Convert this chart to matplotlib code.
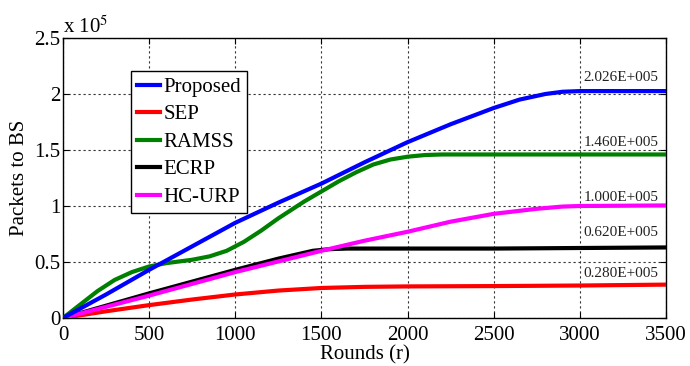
import matplotlib
matplotlib.use('Agg')
import matplotlib.pyplot as plt
import numpy as np

# DATA (y in units of 1e5 packets)
# ----------------------------------------------------------------------------

rounds_prop = [0, 250, 500, 750, 1000, 1250, 1500, 1750, 2000, 2250, 2500, 2650, 2800, 2900, 3000, 3500]
proposed    = [0, 0.21, 0.43, 0.64, 0.85, 1.03, 1.20, 1.39, 1.57, 1.73, 1.875, 1.95, 2.0, 2.02, 2.026, 2.026]

rounds_ramss = [0, 100, 200, 300, 400, 500, 600, 750, 850, 950, 1050, 1150, 1250, 1400, 1500, 1600,
                1700, 1800, 1900, 2000, 2100, 2200, 3500]
ramss        = [0, 0.12, 0.24, 0.34, 0.41, 0.46, 0.49, 0.52, 0.55, 0.60, 0.68, 0.78, 0.89, 1.04, 1.13,
                1.22, 1.30, 1.37, 1.415, 1.44, 1.455, 1.46, 1.46]

rounds_ecrp = [0, 500, 1000, 1250, 1450, 1550, 1650, 2500, 3000, 3500]
ecrp        = [0, 0.22, 0.43, 0.53, 0.60, 0.615, 0.62, 0.62, 0.625, 0.63]

rounds_hc = [0, 500, 1000, 1500, 1750, 2000, 2250, 2500, 2750, 2900, 3000, 3500]
hc_urp    = [0, 0.20, 0.41, 0.60, 0.69, 0.77, 0.86, 0.93, 0.975, 0.995, 1.0, 1.005]

rounds_sep = [0, 250, 500, 750, 1000, 1250, 1500, 1750, 2000, 2500, 3000, 3500]
sep        = [0, 0.06, 0.115, 0.165, 0.21, 0.245, 0.268, 0.278, 0.282, 0.285, 0.29, 0.298]

final_labels = ['2.026E+005', '1.460E+005', '1.000E+005', '0.620E+005', '0.280E+005']
final_label_y = [2.15, 1.57, 1.08, 0.76, 0.40]

# STYLE
# ----------------------------------------------------------------------------

plt.rcParams['font.family'] = ['Liberation Serif', 'DejaVu Serif']
plt.rcParams['mathtext.fontset'] = 'stix'

fig = plt.figure(figsize=(6.9, 3.66), dpi=100, facecolor='white')
ax = fig.add_axes([63 / 690, 1 - 318 / 366, 603 / 690, 280 / 366])

lw = 3
ax.plot(np.array(rounds_prop), proposed, color='#0000FF', lw=lw, label='Proposed', zorder=5)
ax.plot(np.array(rounds_sep), sep, color='#FF0000', lw=lw, label='SEP', zorder=3)
ax.plot(np.array(rounds_ramss), ramss, color='#008000', lw=lw, label='RAMSS', zorder=4)
ax.plot(np.array(rounds_ecrp), ecrp, color='black', lw=lw, label='ECRP', zorder=3)
ax.plot(np.array(rounds_hc), hc_urp, color='#FF00FF', lw=lw, label='HC-URP', zorder=4)

for txt, yv in zip(final_labels, final_label_y):
    ax.text(3240, yv, txt, ha='center', va='center', fontsize=11, color='#222222')

ax.set_xlim(0, 3500)
ax.set_ylim(0, 2.5)
ax.set_xticks(np.arange(0, 3501, 500))
ax.set_yticks([0, 0.5, 1, 1.5, 2, 2.5])
ax.set_yticklabels(['0', '0.5', '1', '1.5', '2', '2.5'])
ax.tick_params(direction='in', labelsize=15, length=4, top=True, right=True, pad=2)
ax.tick_params(axis='x', pad=6)

ax.grid(True, color='#333333', linestyle=(0, (2, 2.5)), linewidth=0.8)
ax.set_axisbelow(True)
for s in ax.spines.values():
    s.set_linewidth(1.0)
    s.set_color('black')

ax.set_xlabel('Rounds (r)', fontsize=15, labelpad=0)
ax.set_ylabel('Packets to BS', fontsize=15, labelpad=4)
ax.text(0.0, 1.0, r'x 10$^{5}$', transform=ax.transAxes, ha='left', va='bottom', fontsize=15)

leg = ax.legend(loc='upper left', bbox_to_anchor=(0.113, 0.882), borderaxespad=0,
                fontsize=15, handlelength=1.1, handletextpad=0.15, labelspacing=0.38,
                borderpad=0.3, fancybox=False, framealpha=1, edgecolor='black')
leg.get_frame().set_linewidth(1.0)

plt.savefig('out.png', dpi=100, facecolor='white')
